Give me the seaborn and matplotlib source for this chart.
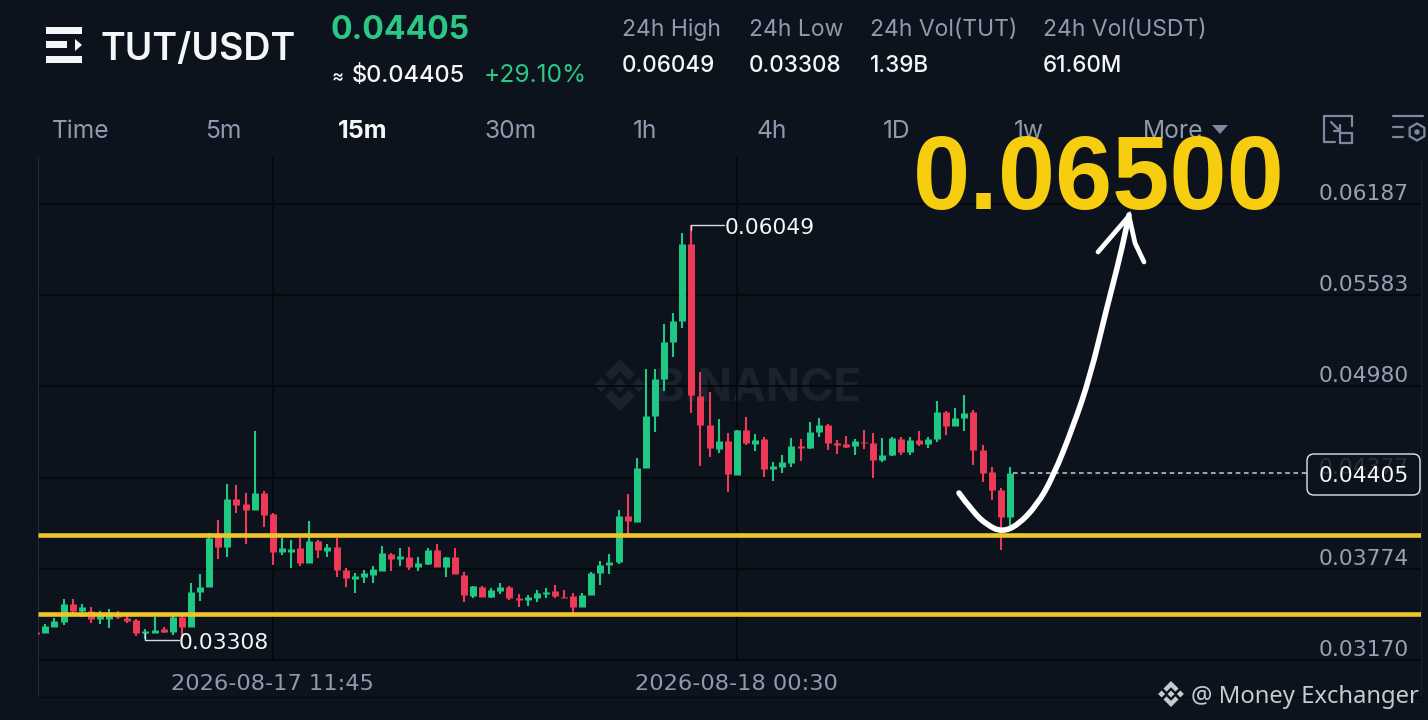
import numpy as np
import pandas as pd
import matplotlib
matplotlib.use("Agg")
import matplotlib.pyplot as plt
from matplotlib.colors import to_rgba
from matplotlib.path import Path
from matplotlib.patches import PathPatch, Polygon, FancyBboxPatch, Rectangle
import seaborn as sns

# ---------- data (USDT x 1e-5), one entry per 15m candle ----------
open_e5 = [3355,3348,3389,3422,3541,3494,3494,3441,3441,3481,3448,3435,3348,3348,3375,3355,3455,3389,3620,3653,
           3997,3918,4235,4203,4162,4275,4135,3885,3885,3911,3812,3957,3891,3918,3765,3705,3719,3732,3759,3871,
           3838,3852,3785,3805,3898,3785,3852,3732,3593,3653,3587,3626,3653,3580,3567,3580,3607,3626,3587,3593,
           3521,3600,3745,3799,3818,4122,4083,4440,4784,5029,5274,5413,5923,4917,4725,4566,4619,4394,4692,4599,
           4632,4434,4447,4473,4586,4573,4678,4725,4606,4599,4586,4612,4606,4493,4526,4632,4546,4626,4599,4632,
           4811,4718,4771,4811,4559,4414,4295,4116]
close_e5 = [3342,3395,3428,3541,3494,3521,3441,3475,3475,3455,3428,3348,3362,3368,3355,3455,3389,3620,3653,3977,
            3918,4235,4196,4162,4275,4129,3885,3911,3904,3812,3957,3898,3918,3765,3712,3725,3745,3772,3878,3838,
            3858,3785,3812,3898,3785,3852,3739,3600,3659,3587,3633,3653,3580,3567,3587,3613,3620,3593,3580,3521,
            3600,3745,3799,3818,4122,4089,4440,4784,5029,5274,5413,5923,4923,4725,4573,4619,4401,4692,4606,4626,
            4434,4453,4480,4586,4573,4678,4725,4606,4593,4579,4619,4606,4493,4526,4639,4546,4626,4599,4632,4811,
            4718,4771,4804,4559,4407,4295,4116,4405]
high_e5 = [3368,3409,3448,3573,3573,3541,3521,3494,3508,3494,3461,3441,3375,3455,3389,3468,3468,3679,3739,4010,
           4096,4335,4328,4275,4685,4288,4142,3977,3964,3977,4089,3964,3938,3977,3779,3745,3765,3792,3925,3878,
           3911,3918,3852,3911,3938,3852,3911,3752,3659,3659,3646,3679,3659,3607,3600,3633,3646,3666,3633,3613,
           3613,3752,3825,3871,4162,4268,4507,5096,5096,5393,5466,5995,6049,5076,4943,4765,4672,4692,4778,4665,
           4645,4480,4526,4639,4632,4745,4771,4732,4626,4652,4632,4692,4672,4639,4645,4645,4645,4685,4645,4884,
           4817,4837,4923,4824,4593,4447,4308,4447]
low_e5 = [3335,3348,3389,3402,3481,3455,3415,3409,3382,3441,3415,3328,3308,3348,3348,3335,3335,3389,3560,3653,
          3838,3852,4142,3938,4162,4050,3799,3865,3779,3792,3812,3845,3852,3719,3653,3613,3679,3679,3759,3759,
          3792,3765,3759,3799,3785,3719,3739,3554,3580,3587,3580,3607,3567,3521,3527,3554,3580,3580,3580,3481,
          3521,3600,3666,3739,3805,3997,4083,4440,4678,4950,5175,5366,4804,4453,4513,4540,4281,4394,4593,4553,
          4381,4354,4407,4447,4487,4566,4645,4559,4533,4573,4526,4566,4374,4480,4520,4526,4526,4586,4573,4612,
          4659,4718,4685,4460,4348,4229,3898,4043]
first_candle = -1
support_levels = [0.03994, 0.03474]
price_ticks = [0.06187, 0.05583, 0.04980, 0.04377, 0.03774, 0.03170]
price_tick_labels = ["0.06187", "0.05583", "0.04980", "0.04377", "0.03774", "0.03170"]
time_ticks = [25, 76]
time_tick_labels = ["2026-08-17 11:45", "2026-08-18 00:30"]
last_price = 0.04405
tabs = ["Time", "5m", "15m", "30m", "1h", "4h", "1D", "1w", "More"]
stat_names = ["24h High", "24h Low", "24h Vol(TUT)", "24h Vol(USDT)"]
stat_values = ["0.06049", "0.03308", "1.39B", "61.60M"]

BG = "#0d131d"; GRID = "#05080d"; GREEN = "#1fc983"; RED = "#ee3a57"
YEL = "#f0c52a"; MUTED = "#8e9ab0"; TICK = "#97a2b4"; WHITE = "#f4f6f8"; ICON = "#7c89a1"
NUM = "DejaVu Sans"

sns.set_theme(style="dark", rc={"figure.facecolor": BG, "axes.facecolor": BG, "savefig.facecolor": BG})
plt.rcParams["font.family"] = ["Inter", "DejaVu Sans"]

W, H = 1428, 720
fig = plt.figure(figsize=(W/100, H/100), dpi=100)
AL, AR, AT, AB = 38, 1421, 157, 697
ax = fig.add_axes([AL/W, 1-AB/H, (AR-AL)/W, (AB-AT)/H])
x0, dx = 45.3, 9.1          # candle index -> pixel scale of the original chart
xd = lambda px: (px-x0)/dx
ax.set_xlim(xd(AL), xd(AR))
ax.set_ylim(0.02925, 0.06498)

# gridlines / frame
ax.set_yticks(price_ticks, price_tick_labels)
ax.yaxis.tick_right()
ax.tick_params(axis="y", length=0, pad=-8.6, labelsize=15.7, labelcolor=TICK)
for t in ax.get_yticklabels():
    t.set_ha("right"); t.set_va("bottom"); t.set_family(NUM)
ax.grid(axis="y", color=GRID, lw=1.3, zorder=0)
ax.grid(axis="x", visible=False)
ax.set_xticks(time_ticks, time_tick_labels)
ax.tick_params(axis="x", length=0, pad=-2, labelsize=16.2, labelcolor=MUTED)
for t in ax.get_xticklabels():
    t.set_va("bottom"); t.set_family(NUM)
ax.vlines(time_ticks, price_ticks[-1], 0.06498, color=GRID, lw=1.3, zorder=0)
for s in ax.spines.values():
    s.set_visible(False)
ax.spines["left"].set_visible(True); ax.spines["left"].set_color("#232934"); ax.spines["left"].set_linewidth(0.8)
ax.spines["right"].set_visible(True); ax.spines["right"].set_color("#1b212c"); ax.spines["right"].set_linewidth(0.8)
ax.spines["bottom"].set_visible(True); ax.spines["bottom"].set_color(GRID); ax.spines["bottom"].set_linewidth(1)

# overlay in pixel coordinates for the app chrome
ov = fig.add_axes([0, 0, 1, 1], facecolor="none", zorder=5)
ov.set_xlim(0, W); ov.set_ylim(H, 0); ov.axis("off")
under = fig.add_axes([0, 0, 1, 1], facecolor="none", zorder=-1)
under.axis("off")
ax.set_zorder(1); ax.patch.set_alpha(0)
under.set_xlim(0, W); under.set_ylim(H, 0)
fig.patch.set_facecolor(BG)

def T(x, y, s, size, color, ha="left", weight="normal", a=ov, **k):
    return a.text(x, y, s, fontsize=size, color=color, ha=ha, va="baseline", fontweight=weight, **k)

def logo(a, cx, cy, r, color, z=3):
    small = 0.27
    for ox, oy in [(0, 0), (-0.72, 0), (0.72, 0)]:
        a.add_patch(Polygon([(cx+(ox-small)*r, cy+oy*r), (cx+ox*r, cy-small*r), (cx+(ox+small)*r, cy), (cx+ox*r, cy+small*r)],
                            closed=True, fc=color, ec="none", zorder=z))
    for sgn in (-1, 1):
        pts = [(-.58, .42), (0, 1), (.58, .42), (.34, .18), (0, .52), (-.34, .18)]
        a.add_patch(Polygon([(cx+p*r, cy+sgn*q*r) for p, q in pts], closed=True, fc=color, ec="none", zorder=z))

# watermark under the candles
logo(under, 620, 385, 26, "#1a2230")
T(655, 401, "BINANCE", 32.5, "#1a2230", weight="bold", a=under)

# candles drawn by seaborn
n = len(open_e5)
idx = np.arange(first_candle, first_candle+n)
o, c, h, l = (np.array(v)/1e5 for v in (open_e5, close_e5, high_e5, low_e5))
df = pd.DataFrame({"idx": idx, "open": o, "close": c, "high": h, "low": l})
df["dir"] = np.where(df.close >= df.open, "up", "down")
wick = df.melt(id_vars=["idx", "dir"], value_vars=["high", "low"], value_name="price")
body = df.melt(id_vars=["idx", "dir"], value_vars=["open", "close"], value_name="price")
pal = {"up": GREEN, "down": RED}
sns.lineplot(data=wick, x="idx", y="price", hue="dir", units="idx", estimator=None, palette=pal,
             lw=1.5, solid_capstyle="butt", legend=False, ax=ax, zorder=2, clip_on=True)
sns.lineplot(data=body, x="idx", y="price", hue="dir", units="idx", estimator=None, palette=pal,
             lw=5, solid_capstyle="butt", legend=False, ax=ax, zorder=3, clip_on=True)
ax.set_xlabel(""); ax.set_ylabel("")
ax.set_xlim(xd(AL), xd(AR)); ax.set_ylim(0.02925, 0.06498)

# support lines, last-price line
for lv in support_levels:
    ax.axhline(lv, color=YEL, lw=3.3, zorder=4, solid_capstyle="butt")
ax.hlines(last_price, xd(1013), xd(1307), color="#c9ced6", lw=1.1, linestyles=(0, (3, 2.4)), zorder=2)

# header
for x, y, w, hh in [(46, 27, 36, 7), (46, 41, 21, 7), (46, 56, 36, 7)]:
    ov.add_patch(Rectangle((x, y), w, hh, fc=WHITE, ec="none"))
ov.add_patch(Polygon([(75, 39), (82, 45), (75, 51)], closed=True, fc=WHITE, ec="none"))
T(101, 60, "TUT/USDT", 27, WHITE, weight="semibold")
T(331, 39, "0.04405", 23, "#2bc785", weight="bold")
T(332, 82, "≈", 13, WHITE, weight="medium")
T(352, 82, "$0.04405", 17, WHITE, weight="medium")
T(484, 82, "+29.10%", 17.7, "#2bc785")
for x, a_, b_ in zip([622, 749, 870, 1043], stat_names, stat_values):
    T(x, 36, a_, 16.5, MUTED)
    T(x, 72, b_, 16.2, WHITE, weight="medium")
for x, s in zip([52, 205, 338, 485, 633, 757, 883, 1014, 1143], tabs):
    if s == "15m":
        T(x, 138, s, 18, WHITE, weight="bold")
    else:
        T(x, 138, s, 17.7, MUTED)
ov.add_patch(Polygon([(1212, 125), (1228, 125), (1220, 134)], closed=True, fc=ICON, ec="none"))

# top-right icons
ov.plot([1337, 1352, 1352], [116, 116, 126], color=ICON, lw=1.6)
ov.plot([1337, 1324, 1324, 1335], [116, 116, 142, 142], color=ICON, lw=1.6)
ov.add_patch(Rectangle((1340, 133), 12, 9.5, fc="none", ec=ICON, lw=1.6))
ov.plot([1331, 1340], [122, 131], color=ICON, lw=1.6)
ov.plot([1334, 1340, 1340], [131, 131, 125], color=ICON, lw=1.6)
ov.plot([1393, 1423], [116, 116], color=ICON, lw=1.6)
ov.plot([1393, 1403], [127, 127], color=ICON, lw=1.6)
ov.plot([1393, 1403], [137, 137], color=ICON, lw=1.6)
ang = np.deg2rad(np.arange(30, 390, 60))
ov.add_patch(Polygon(np.c_[1417+8.5*np.cos(ang), 132+8.5*np.sin(ang)], closed=True, fc="none", ec=ICON, lw=1.6))
ov.add_patch(Polygon(np.c_[1417+3*np.cos(ang), 132+3*np.sin(ang)], closed=True, fc=ICON, ec="none"))

# high / low annotations
ov.plot([691, 691, 724], [230, 225, 225], color="#d8dbe0", lw=1)
T(725, 234, "0.06049", 15.7, WHITE, family=NUM)
ov.plot([145, 145, 179], [633, 639.5, 639.5], color="#d8dbe0", lw=1)
T(179, 649, "0.03308", 15.7, WHITE, family=NUM)

# last price box
ov.add_patch(FancyBboxPatch((1311, 458), 105, 33, boxstyle="round,pad=4,rounding_size=7",
                            fc=to_rgba(BG, 0.8), ec="#e4e7eb", lw=1))
T(1364, 482, "0.04405", 15.7, WHITE, ha="center", family=NUM)

# hand-drawn arrow
arc = [(959,493),(973,512),(987,525),(1002,532),(1018,525),(1037,505),(1053,477),(1073,427),
       (1090,377),(1107,307),(1120,257),(1129,215)]
verts = [arc[0]]; codes = [Path.MOVETO]
for i in range(1, len(arc)-1):
    mid = ((arc[i][0]+arc[i+1][0])/2, (arc[i][1]+arc[i+1][1])/2)
    verts += [arc[i], mid]; codes += [Path.CURVE3, Path.CURVE3]
verts.append(arc[-1]); codes.append(Path.LINETO)
ov.add_patch(PathPatch(Path(verts, codes), fc="none", ec="white", lw=4, capstyle="round", zorder=6))
ov.plot([1098, 1129, 1135, 1144], [252, 216, 243, 262], color="white", lw=3.4, solid_capstyle="round",
        solid_joinstyle="miter", zorder=6)

# big target
T(1099, 209, "0.06500", 74, "#f6cd0f", ha="center", weight="bold", family="Liberation Sans", zorder=7)

# signature
logo(ov, 1171, 694, 13, "#c6cad1")
T(1191, 703, "@ Money Exchanger", 17.2, "#c6cad1", family="Noto Sans")

fig.savefig("out.png", dpi=100, facecolor=BG)
